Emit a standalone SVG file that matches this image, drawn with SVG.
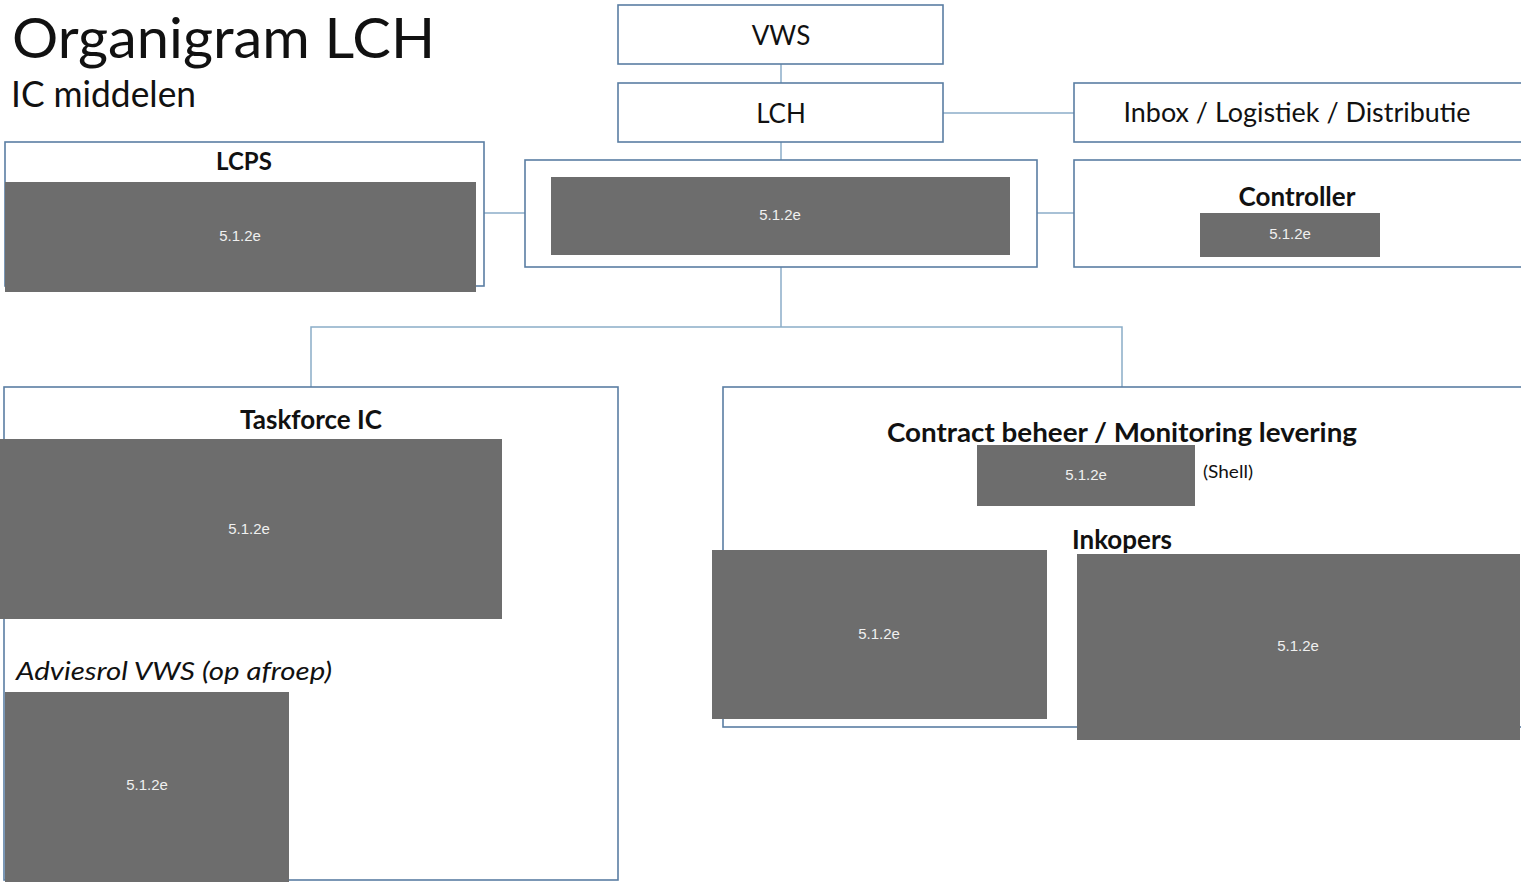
<svg xmlns="http://www.w3.org/2000/svg" width="1521" height="882" viewBox="0 0 1521 882">
<style>
.box{fill:#fff;stroke:#5a7ea3;stroke-width:1.6}
.red{fill:#6d6d6d}
.rt{font-family:"Liberation Sans",Arial,sans-serif;font-size:15px;fill:#f0f0f0;text-anchor:middle}
.lbl{font-family:Lato,"Open Sans",sans-serif;fill:#111}
.b{font-weight:bold}
.c{text-anchor:middle}
.con{stroke:#8badc8;stroke-width:1.5;fill:none}
</style>
<rect width="1521" height="882" fill="#fff"/>
<g id="title">
<text class="lbl" x="12" y="58" font-size="56" textLength="423" lengthAdjust="spacingAndGlyphs">Organigram LCH</text>
<text class="lbl" x="11" y="107" font-size="36" textLength="185" lengthAdjust="spacingAndGlyphs">IC middelen</text>
</g>
<g id="connectors">
<line class="con" x1="781" y1="64" x2="781" y2="83"/>
<line class="con" x1="943" y1="113" x2="1074" y2="113"/>
<line class="con" x1="781" y1="142" x2="781" y2="160"/>
<line class="con" x1="484" y1="213" x2="525" y2="213"/>
<line class="con" x1="1037" y1="213" x2="1074" y2="213"/>
<polyline class="con" points="781,267 781,327"/>
<polyline class="con" points="311,387 311,327 1122,327 1122,387"/>
</g>
<g id="vws">
<rect class="box" x="618" y="5" width="325" height="59"/>
<text class="lbl c" x="781" y="45" font-size="26">VWS</text>
</g>
<g id="lch">
<rect class="box" x="618" y="83" width="325" height="59"/>
<text class="lbl c" x="781" y="123" font-size="26">LCH</text>
</g>
<g id="inbox">
<rect class="box" x="1074" y="83" width="452" height="59"/>
<text class="lbl c" x="1297" y="122" font-size="26" textLength="347" lengthAdjust="spacingAndGlyphs">Inbox / Logistiek / Distributie</text>
</g>
<g id="lcps">
<rect class="box" x="5" y="142" width="479" height="144"/>
<text class="lbl b c" x="244" y="170" font-size="24">LCPS</text>
<rect class="red" x="5" y="182" width="471" height="110"/>
<text class="rt" x="240" y="241">5.1.2e</text>
</g>
<g id="lch-staff">
<rect class="box" x="525" y="160" width="512" height="107"/>
<rect class="red" x="551" y="177" width="459" height="78"/>
<text class="rt" x="780" y="220">5.1.2e</text>
</g>
<g id="controller">
<rect class="box" x="1074" y="160" width="452" height="107"/>
<text class="lbl b c" x="1297" y="206" font-size="26">Controller</text>
<rect class="red" x="1200" y="213" width="180" height="44"/>
<text class="rt" x="1290" y="239">5.1.2e</text>
</g>
<g id="taskforce">
<rect class="box" x="4" y="387" width="614" height="493"/>
<text class="lbl b c" x="311" y="429" font-size="26">Taskforce IC</text>
<rect class="red" x="0" y="439" width="502" height="180"/>
<text class="rt" x="249" y="534">5.1.2e</text>
<text class="lbl" x="16" y="680" font-size="26" font-style="italic" textLength="316" lengthAdjust="spacingAndGlyphs">Adviesrol VWS (op afroep)</text>
<rect class="red" x="5" y="692" width="284" height="190"/>
<text class="rt" x="147" y="790">5.1.2e</text>
</g>
<g id="contract">
<rect class="box" x="723" y="387" width="803" height="340"/>
<text class="lbl b c" x="1122" y="442" font-size="26" textLength="470" lengthAdjust="spacingAndGlyphs">Contract beheer / Monitoring levering</text>
<rect class="red" x="977" y="445" width="218" height="61"/>
<text class="rt" x="1086" y="480">5.1.2e</text>
<text class="lbl" x="1203" y="478" font-size="18" textLength="50" lengthAdjust="spacingAndGlyphs">(Shell)</text>
<text class="lbl b c" x="1122" y="549" font-size="26">Inkopers</text>
<rect class="red" x="712" y="550" width="335" height="169"/>
<text class="rt" x="879" y="639">5.1.2e</text>
<rect class="red" x="1077" y="554" width="443" height="186"/>
<text class="rt" x="1298" y="651">5.1.2e</text>
</g>
</svg>
